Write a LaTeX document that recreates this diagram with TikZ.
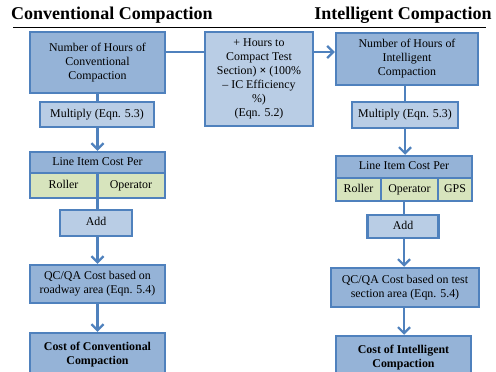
\documentclass[tikz,border=0pt]{standalone}
\usepackage{fontspec}
\setmainfont{Liberation Serif}
\usepackage{xcolor}
\usepackage{tikz}
\usetikzlibrary{arrows.meta}

\definecolor{boxline}{HTML}{4F81BD}
\definecolor{darkfill}{HTML}{95B3D7}
\definecolor{lightfill}{HTML}{B9CDE5}
\definecolor{cellfill}{HTML}{D7E4BD}

\begin{document}
\begin{tikzpicture}[x=1pt, y=-1pt,
    every node/.style={font=\fontsize{11.9}{14}\selectfont, align=center, inner sep=0pt},
    mainbox/.style={draw=boxline, fill=darkfill, line width=2.5pt},
    opbox/.style={draw=boxline, fill=lightfill, line width=2.5pt},
    cellbox/.style={draw=boxline, fill=cellfill, line width=2.5pt, oneline},
    oneline/.style={text height=8pt, text depth=2.5pt},
    heading/.style={font=\fontsize{18}{21}\selectfont\bfseries},
    link/.style={draw=boxline, line width=2.2pt},
    flow/.style={link, -{Straight Barb[length=6pt, width=12pt]}}]
    \path[use as bounding box, clip] (0,0) rectangle (496,372);

    % Headings
    \node[heading] (convtitle) at (112,15) {Conventional Compaction};
    \node[heading] (inteltitle) at (403,15) {Intelligent Compaction};
    \draw[line width=1pt] (13,27) -- (486,27);

    % Conventional column
    \node[mainbox, minimum width=135, minimum height=61] (hoursCC) at (97.5,62.5) {Number of Hours of\\Conventional\\Compaction};
    \node[opbox, oneline, minimum width=114, minimum height=25] (multCC) at (97,114.5) {Multiply (Eqn. 5.3)};
    \node[mainbox, oneline, minimum width=135, minimum height=21] (lineCC) at (97.5,162.5) {Line Item Cost Per};
    \node[cellbox, minimum width=67, minimum height=25] (rollerCC) at (63.5,185.5) {Roller};
    \node[cellbox, minimum width=68, minimum height=25] (operCC) at (131,185.5) {Operator};
    \node[opbox, oneline, minimum width=72, minimum height=26] (addCC) at (96,223) {Add};
    \node[mainbox, minimum width=135, minimum height=38] (qcCC) at (97.5,284) {QC/QA Cost based on\\roadway area (Eqn. 5.4)};
    \node[mainbox, minimum width=135, minimum height=44] (costCC) at (97.5,355) {\textbf{Cost of Conventional}\\\textbf{Compaction}};

    % Efficiency box
    \node[opbox, minimum width=108, minimum height=94] (effic) at (259,79) {+ Hours to\\Compact Test\\Section) {\bfseries ×} (100\%\\– IC Efficiency\\\%)\\(Eqn. 5.2)};

    % Intelligent column
    \node[mainbox, minimum width=142, minimum height=52] (hoursIC) at (407,59) {Number of Hours of\\Intelligent\\Compaction};
    \node[opbox, oneline, minimum width=106, minimum height=26] (multIC) at (405,115) {Multiply (Eqn. 5.3)};
    \node[mainbox, oneline, minimum width=136, minimum height=22] (lineIC) at (404,167) {Line Item Cost Per};
    \node[cellbox, minimum width=45, minimum height=23] (rollerIC) at (358.5,189.5) {Roller};
    \node[cellbox, minimum width=57, minimum height=23] (operIC) at (409.5,189.5) {Operator};
    \node[cellbox, minimum width=34, minimum height=23] (gpsIC) at (455,189.5) {GPS};
    \node[opbox, oneline, minimum width=71, minimum height=23] (addIC) at (403,226.5) {Add};
    \node[mainbox, minimum width=148, minimum height=39] (qcIC) at (405,287.5) {QC/QA Cost based on test\\section area (Eqn. 5.4)};
    \node[mainbox, minimum width=135, minimum height=44] (costIC) at (403.5,358) {\textbf{Cost of Intelligent}\\\textbf{Compaction}};

    % Connectors
    \coordinate (linkrow) at (0,52);
    \path[link] (hoursCC.east |- linkrow) -- (effic.west |- linkrow);
    \path[flow] (effic.east |- linkrow) -- (hoursIC.west |- linkrow);

    \path[link] (hoursCC.south) -- (hoursCC.south |- multCC.north);
    \path[flow] (multCC.south -| hoursCC.south) -- (hoursCC.south |- lineCC.north);
    \path[link] (lineCC.south) -- (lineCC.south |- addCC.north);
    \path[flow] (addCC.south -| lineCC.south) -- (lineCC.south |- qcCC.north);
    \path[flow] (qcCC.south) -- (qcCC.south |- costCC.north);

    \path[link] (hoursIC.south -| multIC.north) -- (multIC.north);
    \path[flow] (multIC.south) -- (multIC.south |- lineIC.north);
    \path[link] (operIC.south -| lineIC.south) -- (lineIC.south |- addIC.north);
    \path[flow] (addIC.south -| lineIC.south) -- (lineIC.south |- qcIC.north);
    \path[flow] (qcIC.south -| lineIC.south) -- (lineIC.south |- costIC.north);
\end{tikzpicture}
\end{document}
